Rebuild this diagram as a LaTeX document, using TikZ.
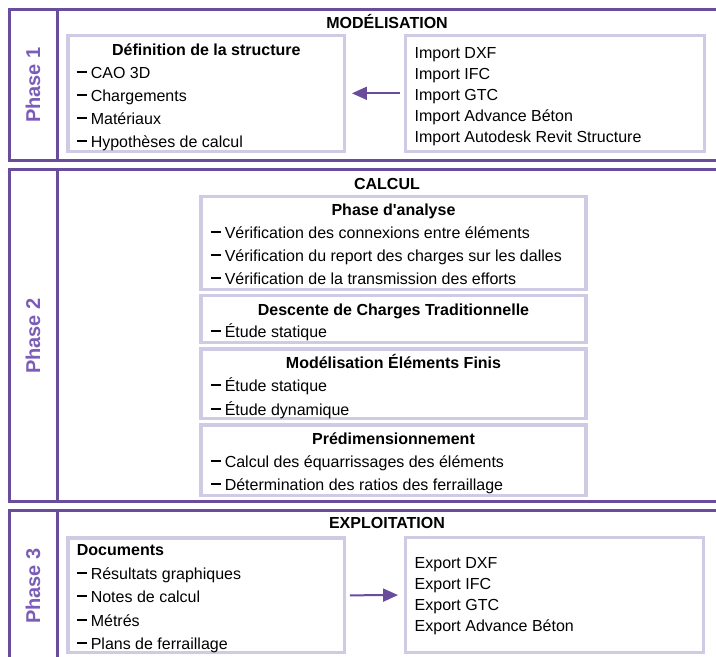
\documentclass[tikz,border=0pt]{standalone}
\usepackage{fontspec}
\setmainfont{Liberation Sans}[Ligatures=TeXOff]
\usetikzlibrary{arrows.meta}
\definecolor{outerc}{HTML}{6A4C9C}
\definecolor{innerc}{HTML}{D0CBE5}
\definecolor{phasec}{HTML}{7B5CB8}
\newcommand\fs{\fontsize{16}{19}\selectfont}
\newcommand\fsp{\fontsize{20}{24}\selectfont}
\newcommand\itemdash{\rule[5pt]{10.5pt}{2pt}\hspace{3.4pt}}
\tikzset{
  outer/.style={draw=outerc, line width=3pt},
  ibox/.style={draw=innerc, line width=3.5pt, rectangle, inner sep=0pt},
  txt/.style={anchor=base west, inner sep=0pt, font=\fs},
  head/.style={anchor=base, inner sep=0pt, font=\fs\bfseries},
  lhead/.style={anchor=base west, inner sep=0pt, font=\fs\bfseries},
  phase/.style={rotate=90, font=\fsp\bfseries, text=phasec, inner sep=0pt},
  arr/.style={draw=outerc, line width=2pt, -{Triangle[length=15pt,width=13pt]}},
}
\begin{document}
\begin{tikzpicture}[x=1pt,y=-1pt]
\useasboundingbox (0,0) rectangle (716,657);
\clip (0,0) rectangle (716,657);
\fill[white] (0,0) rectangle (716,657);

% outer frames
\draw[outer] (730,9.5) -- (9,9.5) -- (9,160.5) -- (730,160.5);
\draw[outer] (57,9.5) -- (57,160.5);
\draw[outer] (730,169.5) -- (9,169.5) -- (9,501.5) -- (730,501.5);
\draw[outer] (57,169.5) -- (57,501.5);
\draw[outer] (730,510.5) -- (9,510.5) -- (9,680) -- (730,680);
\draw[outer] (57,510.5) -- (57,680);

% phase labels
\node[phase] (ph1) at (33,85) {Phase 1};
\node[phase] (ph2) at (33,336) {Phase 2};
\node[phase] (ph3) at (33,586) {Phase 3};

% titles
\node[head] (t1) at (387,28.3) {MODÉLISATION};
\node[head] (t2) at (387,189.3) {CALCUL};
\node[head] (t3) at (387,528.3) {EXPLOITATION};

% ---------- Phase 1
\node[ibox, minimum width=276.7pt, minimum height=116pt] (def) at (206.35,93.3) {};
\node[ibox, minimum width=298.8pt, minimum height=116pt] (imp) at (555.1,93.3) {};
\node[head] (defh) at (206.35,55.5) {Définition de la structure};
\foreach \t/\y [count=\i] in {CAO 3D/78, Chargements/101, Matériaux/124, Hypothèses de calcul/147}
  \node[txt] (def\i) at (76.7,\y) {\itemdash\t};
\foreach \t/\y [count=\i] in {Import DXF/58.2, Import IFC/79.2, Import GTC/100.2, Import Advance Béton/121.2, Import Autodesk Revit Structure/142.2}
  \node[txt] (imp\i) at (414.5,\y) {\t};
\draw[arr, shorten <=4pt, shorten >=5.5pt] (imp.west) -- (def.east);

% ---------- Phase 2
\node[ibox, minimum width=385pt, minimum height=92.6pt] (b1) at (393.5,243) {};
\node[ibox, minimum width=385pt, minimum height=47pt] (b2) at (393.5,319.2) {};
\node[ibox, minimum width=385pt, minimum height=69.7pt] (b3) at (393.5,383.85) {};
\node[ibox, minimum width=385pt, minimum height=70.3pt] (b4) at (393.5,460.15) {};

\node[head] (b1h) at (393.5,215) {Phase d'analyse};
\foreach \t/\y [count=\i] in {Vérification des connexions entre éléments/238, Vérification du report des charges sur les dalles/261, Vérification de la transmission des efforts/284}
  \node[txt] (b1i\i) at (210.7,\y) {\itemdash\t};

\node[head] (b2h) at (393.5,315) {Descente de Charges Traditionnelle};
\node[txt] (b2i1) at (210.7,337) {\itemdash Étude statique};

\node[head] (b3h) at (393.5,368) {Modélisation Éléments Finis};
\foreach \t/\y [count=\i] in {Étude statique/391, Étude dynamique/415}
  \node[txt] (b3i\i) at (210.7,\y) {\itemdash\t};

\node[head] (b4h) at (393.5,444.3) {Prédimensionnement};
\foreach \t/\y [count=\i] in {Calcul des équarrissages des éléments/467, Détermination des ratios des ferraillage/490}
  \node[txt] (b4i\i) at (210.7,\y) {\itemdash\t};

% ---------- Phase 3
\node[ibox, minimum width=276.7pt, minimum height=114.7pt] (doc) at (206.35,595.35) {};
\node[ibox, minimum width=298.4pt, minimum height=115.4pt] (exp) at (554.5,595) {};
\node[lhead] (doch) at (76.7,555) {Documents};
\foreach \t/\y [count=\i] in {Résultats graphiques/579, Notes de calcul/602, Métrés/626, Plans de ferraillage/649}
  \node[txt] (doc\i) at (76.7,\y) {\itemdash\t};
\foreach \t/\y [count=\i] in {Export DXF/568, Export IFC/589.7, Export GTC/610.7, Export Advance Béton/631.7}
  \node[txt] (exp\i) at (414.5,\y) {\t};
\draw[arr, shorten <=3.5pt, shorten >=5.5pt] (doc.east) -- (exp.west);
\end{tikzpicture}
\end{document}
